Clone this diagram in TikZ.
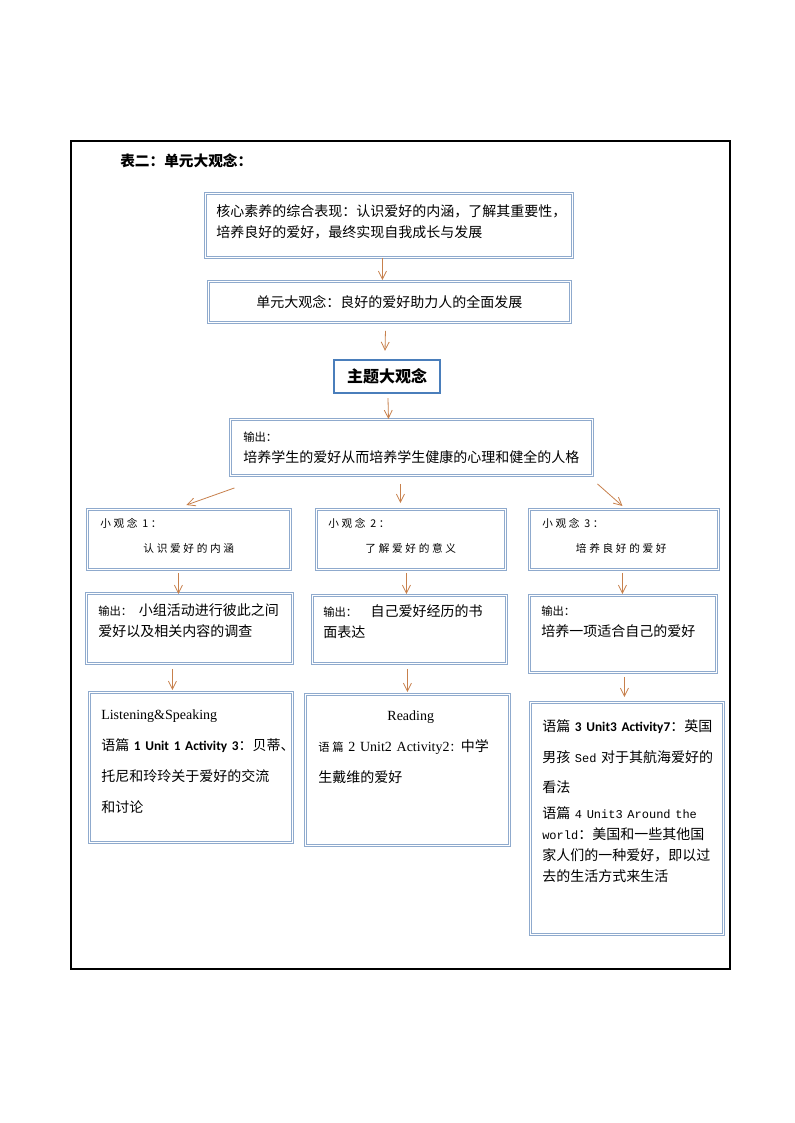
\documentclass[tikz,border=0pt]{standalone}
\usepackage{fontspec}
\setmainfont{Liberation Serif}
\setmonofont{Liberation Mono}
\newfontfamily\cjk{Noto Sans CJK SC}
\newfontfamily\cjksp[LetterSpace=25]{Noto Sans CJK SC}
\newfontfamily\cali{Carlito}
\usetikzlibrary{positioning,calc,arrows.meta}
\definecolor{boxline}{RGB}{143,170,205}
\definecolor{mainline}{RGB}{74,126,187}
\definecolor{arrowc}{RGB}{199,128,76}
\newcommand{\smallzh}{\fontsize{8.5}{10}\selectfont}
\newcommand{\midline}[1]{\hspace*{\fill}{#1}\hspace*{\fill}\null}

\begin{document}
\begin{tikzpicture}[x=0.75pt,y=-0.75pt,
  box/.style 2 args={draw=boxline, double=white, double distance=1.2pt, line width=0.7pt, minimum width=#1*0.75pt, minimum height=#2*0.75pt, anchor=north west, inner sep=0pt},
  txt/.style={anchor=base west, inner sep=0pt, align=left, font=\cjk\fontsize{10.5}{15.75}\selectfont},
  arr/.style={draw=arrowc, line width=0.6pt, -{Straight Barb[length=6pt,width=6pt]}}]
  \fill[white] (0,0) rectangle (794,1123);
  \useasboundingbox (0,0) rectangle (794,1123);
  \draw[line width=0.8pt] (71,141) rectangle (730,969);
  \node[anchor=west, inner sep=0pt, font=\cjk\bfseries\fontsize{11}{13}\selectfont] (title) at (120,161) {表二：单元大观念：};

  \node[box={367}{64}] (core) at (205,193) {};
  \node[txt, text width=270pt] (coretxt) at ([shift={(11,24)}]core.north west) {核心素养的综合表现：认识爱好的内涵，了解其重要性，\\培养良好的爱好，最终实现自我成长与发展};
  \node[box={362}{41}] (unit) at (208,281) {};
  \node[txt, anchor=center] (unittxt) at (unit.center) {单元大观念：良好的爱好助力人的全面发展};
  \node[draw=mainline, line width=1.8pt, minimum width=106*0.75pt, minimum height=33*0.75pt, inner sep=0pt, font=\cjk\bfseries\fontsize{12}{14}\selectfont] (theme) at (387,376.5) {主题大观念};
  \node[box={362}{56}] (out) at (230,419) {};
  \node[txt, text width=260pt] (outtxt) at ([shift={(13,22)}]out.north west) {{\smallzh 输出：}\\培养学生的爱好从而培养学生健康的心理和健全的人格};

  \node[box={203}{60}] (idea1) at (87,509) {};
  \node[txt, text width=132.75pt] (idea1txt) at ([shift={(13,18)}]idea1.north west) {{\cjksp\fontsize{8}{10}\selectfont 小观念 1：}\\[3pt]\midline{\cjksp\fontsize{8}{10}\selectfont 认识爱好的内涵}};
  \node[box={189}{60}] (idea2) at (316,509) {};
  \node[txt, text width=123.75pt] (idea2txt) at ([shift={(12,18)}]idea2.north west) {{\cjksp\fontsize{8}{10}\selectfont 小观念 2：}\\[3pt]\midline{\cjksp\fontsize{8}{10}\selectfont 了解爱好的意义}};
  \node[box={189}{60}] (idea3) at (529,509) {};
  \node[txt, text width=118.5pt] (idea3txt) at ([shift={(13,18)}]idea3.north west) {{\cjksp\fontsize{8}{10}\selectfont 小观念 3：}\\[3pt]\midline{\cjksp\fontsize{8}{10}\selectfont 培养良好的爱好}};

  \node[box={206}{70}] (res1) at (86,593) {};
  \node[txt, text width=145pt] (res1txt) at ([shift={(12,22)}]res1.north west) {{\smallzh 输出：}\hspace{5pt}小组活动进行彼此之间\\爱好以及相关内容的调查};
  \node[box={194}{68}] (res2) at (312,595) {};
  \node[txt, text width=135pt] (res2txt) at ([shift={(11,21)}]res2.north west) {{\smallzh 输出：}\hspace{10pt}自己爱好经历的书\\面表达};
  \node[box={187}{77}] (res3) at (529,595) {};
  \node[txt, text width=130pt] (res3txt) at ([shift={(12,20)}]res3.north west) {{\smallzh 输出：}\\培养一项适合自己的爱好};

  \node[box={203}{150}] (src1) at (89,692) {};
  \node[txt, text width=150pt] (src1txt) at ([shift={(12,27)}]src1.north west) {{\rmfamily Listening\&Speaking}\\[7.5pt]语篇~{\cali\bfseries\fontsize{10}{12}\selectfont 1~Unit~1~Activity~3}：贝蒂、\\[7.5pt]托尼和玲玲关于爱好的交流\\[7.5pt]和讨论};
  \node[box={204}{151}] (src2) at (305,694) {};
  \node[txt, text width=138.75pt] (src2txt) at ([shift={(13,26)}]src2.north west) {\midline{\rmfamily Reading}\\[7.5pt]{\cjksp\smallzh 语篇}~{\rmfamily 2~Unit2~Activity2}{\smallzh ：}中学\\[7.5pt]生戴维的爱好};
  \node[box={193}{232}] (src3) at (530,702) {};
  \node[txt, text width=140pt] (src3txt) at ([shift={(12,29)}]src3.north west) {语篇~{\cali\bfseries\fontsize{10}{12}\selectfont 3~Unit3~Activity7}：英国\\[7.5pt]男孩~{\ttfamily\fontsize{9}{10}\selectfont Sed}~对于其航海爱好的\\[6.75pt]看法\\[3.75pt]语篇~{\ttfamily\fontsize{9}{10}\selectfont 4~Unit3~Around~the}\\{\ttfamily\fontsize{9}{10}\selectfont world}：美国和一些其他国\\家人们的一种爱好，即以过\\去的生活方式来生活};

  \draw[arr] ([shift={(-6.5,0)}]core.south) -- ([shift={(-7,-1)}]unit.north);
  \draw[arr] ([shift={(-4,8)}]unit.south) -- ([shift={(-2,-8)}]theme.north);
  \draw[arr] ([shift={(1,4)}]theme.south) -- ([shift={(-23,0)}]out.north);
  \draw[arr] ([shift={(-177,12)}]out.south) -- ([shift={(-2.5,-4)}]idea1.north);
  \draw[arr] ([shift={(-11,8)}]out.south) -- ([shift={(-10.5,-6)}]idea2.north);
  \draw[arr] ([shift={(186,8)}]out.south) -- ([shift={(-1.5,-3)}]idea3.north);
  \draw[arr] ([shift={(-10.5,3)}]idea1.south) -- ([shift={(-11,1)}]res1.north);
  \draw[arr] ([shift={(-4.5,3)}]idea2.south) -- ([shift={(-3,-1)}]res2.north);
  \draw[arr] ([shift={(-1.5,3)}]idea3.south) -- ([shift={(-0.5,-1)}]res3.north);
  \draw[arr] ([shift={(-17,5)}]res1.south) -- ([shift={(-18.5,-2)}]src1.north);
  \draw[arr] ([shift={(-2,5)}]res2.south) -- ([shift={(0,-2)}]src2.north);
  \draw[arr] ([shift={(1.5,4)}]res3.south) -- ([shift={(-2.5,-5)}]src3.north);
\end{tikzpicture}
\end{document}
